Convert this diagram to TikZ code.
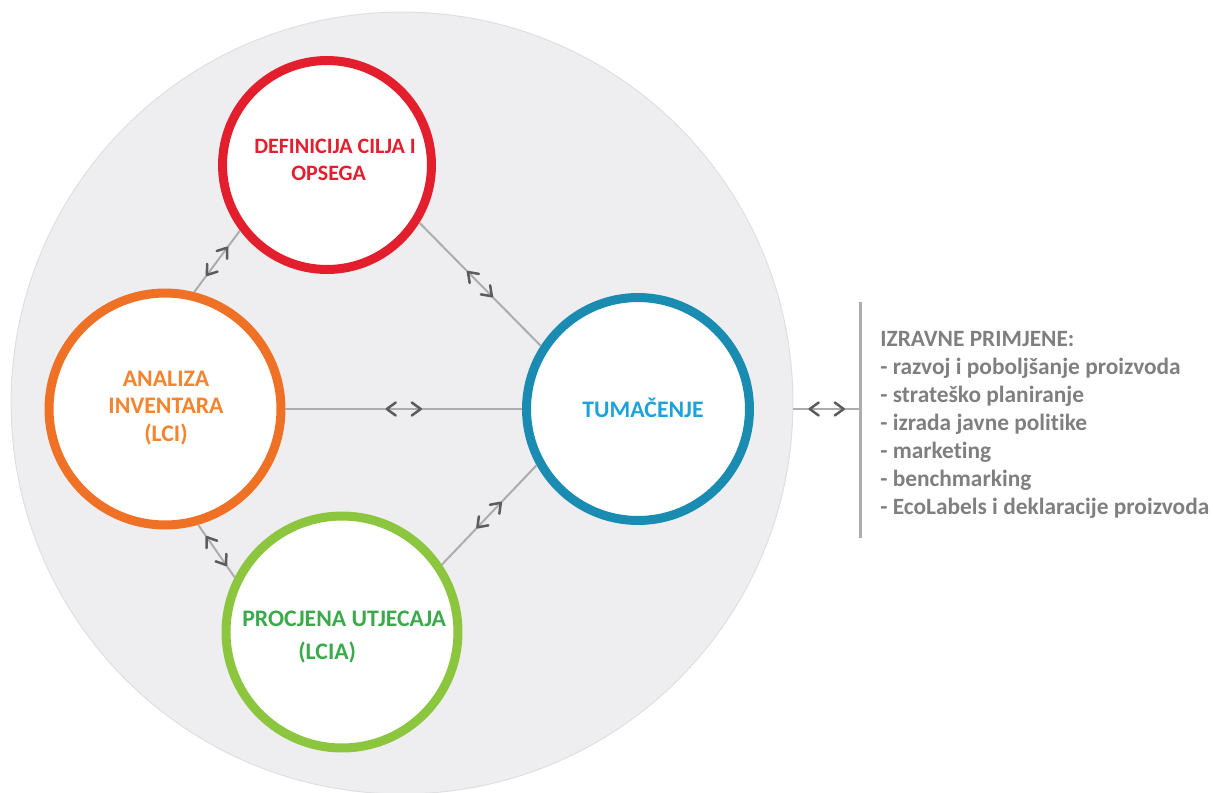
\documentclass[tikz,border=0pt]{standalone}
\usepackage{fontspec}
\setmainfont{Carlito}[Ligatures=NoCommon]
\usetikzlibrary{decorations.markings}

\definecolor{lcared}{HTML}{E31E2D}
\definecolor{lcaorange}{HTML}{EF7125}
\definecolor{lcaorangetxt}{HTML}{F4842E}
\definecolor{lcateal}{HTML}{1A8CB2}
\definecolor{lcatealtxt}{HTML}{1FA2DA}
\definecolor{lcagreen}{HTML}{8CC63F}
\definecolor{lcagreentxt}{HTML}{3BAA4B}
\definecolor{backfill}{HTML}{EEEEF0}
\definecolor{linkgray}{HTML}{ADADAD}
\definecolor{chevgray}{HTML}{5C5C5C}
\definecolor{listgray}{HTML}{7F7F7F}

\tikzset{
  phase/.style={circle, draw, fill=white, line width=0.18cm, inner sep=0pt, minimum size=#1},
  phasetext/.style={font=\fontsize{13.5}{15.5}\selectfont\bfseries, inner sep=0pt},
  chev/.style={draw=chevgray, line width=0.05cm, line cap=round, line join=round},
  link/.style={draw=linkgray, line width=0.04cm, postaction={decorate},
    decoration={markings, mark=at position 0.5 with {
      \draw[chev] (-8,-6.5) -- (-17,0) -- (-8,6.5);
      \draw[chev] (8,-6.5) -- (17,0) -- (8,6.5);}}},
}

\begin{document}
\begin{tikzpicture}[x=0.02cm, y=-0.02cm]
  \useasboundingbox (0,0) rectangle (1213,792);

  % background disc
  \node[circle, fill=backfill, draw=gray!25, line width=0.02cm, inner sep=0pt,
    minimum size=15.64cm] (lca) at (402,403) {};

  % phases
  \node[phase=4.18cm, draw=lcared] (goal) at (327,165) {};
  \node[phase=4.64cm, draw=lcaorange] (inventory) at (165,409) {};
  \node[phase=4.46cm, draw=lcateal] (interpret) at (638,409) {};
  \node[phase=4.64cm, draw=lcagreen] (impact) at (342,632) {};

  \node[phasetext, font=\fontsize{12.5}{15}\selectfont\bfseries, text=lcared,
    anchor=west, align=left] (goaltext) at (254,160)
    {DEFINICIJA CILJA I\\[0pt]\hspace*{0.74cm}OPSEGA};
  \node[phasetext, text=lcaorangetxt, align=center] (inventorytext) at (166,408)
    {ANALIZA\\INVENTARA\\(LCI)};
  \node[phasetext, text=lcatealtxt] (interprettext) at (643,408) {TUMAČENJE};
  \node[phasetext, text=lcagreentxt, anchor=west, align=left] (impacttext) at (242,637)
    {PROCJENA UTJECAJA\\[0.1cm]\hspace*{1.12cm}(LCIA)};

  % connectors
  \path[link] (goal.217) -- (inventory.76);
  \path[link] (goal.328) -- (interpret.147);
  \path[link] (inventory.east) -- (interpret.west);
  \path[link] (inventory.286) -- (impact.153);
  \path[link] (impact.34) -- (interpret.209);

  % applications
  \coordinate (bartop) at (860,302);
  \coordinate (barbot) at (860,538);
  \draw[linkgray, line width=0.06cm] (bartop) -- (barbot);
  \path[link] (lca.east |- interpret.east) -- (bartop |- interpret.east);

  \node[anchor=north west, inner sep=0pt, text=listgray, align=left,
    font=\fontsize{13.3}{15.9}\selectfont\bfseries] (uses) at (880,331)
    {IZRAVNE PRIMJENE:\\
     - razvoj i poboljšanje proizvoda\\
     - strateško planiranje\\
     - izrada javne politike\\
     - marketing\\
     - benchmarking\\
     - EcoLabels i deklaracije proizvoda};
\end{tikzpicture}
\end{document}
